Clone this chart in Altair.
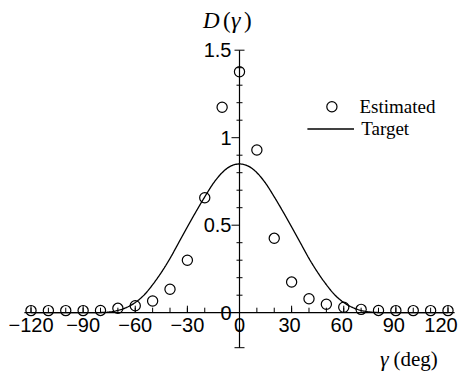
import altair as alt
import pandas as pd

# ---- data -------------------------------------------------------------
# Estimated directivity, sampled every 10 degrees
est_gamma = [-120, -110, -100, -90, -80, -70, -60, -50, -40, -30, -20, -10,
             0, 10, 20, 30, 40, 50, 60, 70, 80, 90, 100, 110, 120]
est_value = [0.012, 0.012, 0.012, 0.012, 0.013, 0.025, 0.040, 0.067, 0.134,
             0.300, 0.657, 1.174, 1.377, 0.930, 0.425, 0.175, 0.080, 0.048,
             0.031, 0.019, 0.013, 0.012, 0.012, 0.012, 0.012]

# Target directivity, every 5 degrees
target_gamma = [-120, -115, -110, -105, -100, -95, -90, -85, -80, -75, -70,
                -65, -60, -55, -50, -45, -40, -35, -30, -25, -20, -15, -10,
                -5, 0, 5, 10, 15, 20, 25, 30, 35, 40, 45, 50, 55, 60, 65, 70,
                75, 80, 85, 90, 95, 100, 105, 110, 115, 120]
target_value = [0, 0, 0, 0, 0, 0, 0, 0, 0.001, 0.004, 0.013, 0.030, 0.058,
                0.100, 0.160, 0.230, 0.310, 0.400, 0.490, 0.578, 0.662, 0.740,
                0.800, 0.838, 0.850, 0.838, 0.800, 0.740, 0.662, 0.578, 0.490,
                0.400, 0.310, 0.230, 0.160, 0.100, 0.058, 0.030, 0.013, 0.004,
                0.001, 0, 0, 0, 0, 0, 0, 0, 0]

# Axis ranges, ticks and labels
x_domain = [-123.8, 123.8]
y_domain = [-0.2, 1.5]
x_minor = [-120, -110, -100, -90, -80, -70, -60, -50, -40, -30, -20, -10,
           10, 20, 30, 40, 50, 60, 70, 80, 90, 100, 110, 120]
x_major = [-120, -90, -60, -30, 30, 60, 90, 120]
x_label_pos = [-120, -90, -60, -30, 0]
x_label_txt = ["\u2212120", "\u221290", "\u221260", "\u221230", "0"]
x_label_pos_r = [30, 60, 90]
x_label_txt_r = ["30", "60", "90"]
x_label_pos_end = [120]
x_label_txt_end = ["120"]
y_minor = [-0.1, 0.1, 0.2, 0.3, 0.4, 0.6, 0.7, 0.8, 0.9, 1.1, 1.2, 1.3, 1.4]
y_major = [0.5, 1.0]
y_ends = [-0.2, 1.5]
y_label_pos = [0, 0.5, 1.0, 1.5]
y_label_txt = ["0", "0.5", "1", "1.5"]

W, H = 430.2, 297.5
SANS = "Liberation Sans"
SERIF = "Liberation Serif"

est_df = pd.DataFrame({"gamma": est_gamma, "value": est_value,
                       "kind": ["Estimated"] * len(est_gamma)})
tgt_df = pd.DataFrame({"gamma": target_gamma, "value": target_value,
                       "curve": ["Target"] * len(target_gamma)})

xs = alt.Scale(domain=x_domain, nice=False, zero=False)
ys = alt.Scale(domain=y_domain, nice=False, zero=False)


def ticks_df(vals):
    return pd.DataFrame({"t": vals, "z": [0] * len(vals)})


# ---- axes drawn through the origin ------------------------------------
x_axis_line = alt.Chart(pd.DataFrame(
    {"a": [x_domain[0]], "b": [x_domain[1]], "z": [0]})).mark_rule(
    color="black", strokeWidth=1.2).encode(
    x=alt.X("a:Q", scale=xs, axis=None), x2="b:Q",
    y=alt.Y("z:Q", scale=ys, axis=None))
y_axis_line = alt.Chart(pd.DataFrame(
    {"a": [y_domain[0]], "b": [y_domain[1]], "z": [0]})).mark_rule(
    color="black", strokeWidth=1.2).encode(
    y=alt.Y("a:Q", scale=ys, axis=None), y2="b:Q",
    x=alt.X("z:Q", scale=xs, axis=None))


def x_ticks(vals, length):
    return alt.Chart(ticks_df(vals)).mark_rule(
        color="black", strokeWidth=1, yOffset=-length, y2Offset=0).encode(
        x=alt.X("t:Q", scale=xs, axis=None),
        y=alt.Y("z:Q", scale=ys, axis=None), y2="z:Q")


def y_ticks(vals, left, right):
    return alt.Chart(ticks_df(vals)).mark_rule(
        color="black", strokeWidth=1, xOffset=-left, x2Offset=right).encode(
        y=alt.Y("t:Q", scale=ys, axis=None),
        x=alt.X("z:Q", scale=xs, axis=None), x2="z:Q")


def x_labels(pos, txt, shift):
    return alt.Chart(pd.DataFrame(
        {"t": pos, "s": txt, "z": [0] * len(pos)})).mark_text(
        font=SANS, fontSize=20, color="black", baseline="middle",
        align="center", dy=13, dx=shift
    ).encode(x=alt.X("t:Q", scale=xs, axis=None),
             y=alt.Y("z:Q", scale=ys, axis=None), text="s:N")


y_labels = alt.Chart(pd.DataFrame(
    {"t": y_label_pos, "s": y_label_txt, "z": [0] * len(y_label_pos)})).mark_text(
    font=SANS, fontSize=20, color="black", baseline="middle", align="right",
    dx=-8, dy=1
).encode(y=alt.Y("t:Q", scale=ys, axis=None),
         x=alt.X("z:Q", scale=xs, axis=None), text="s:N")


# Axis captions, built from italic symbols and upright punctuation
def caption(text, x, y, size, italic):
    return alt.Chart(pd.DataFrame({"s": [text]})).mark_text(
        font=SERIF, fontSize=size, fontStyle="italic" if italic else "normal",
        color="black", align="left", baseline="alphabetic"
    ).encode(x=alt.value(x), y=alt.value(y), text="s:N")


y_title = [
    caption("D", 178.6, -22, 23, True),
    caption("(", 198.6, -22, 23, False),
    caption("\u03b3", 206.6, -22, 24, True),
    caption(")", 219.6, -22, 23, False),
]
x_title = [
    caption("\u03b3", 355.6, 316, 22, True),
    caption("(deg)", 369.0, 316, 21, False),
]

# ---- data layers ------------------------------------------------------
points = alt.Chart(est_df).mark_point(
    filled=False, size=104, strokeWidth=1.2, color="black", opacity=1
).encode(
    x=alt.X("gamma:Q", scale=xs, axis=None),
    y=alt.Y("value:Q", scale=ys, axis=None),
    shape=alt.Shape("kind:N", scale=alt.Scale(range=["circle"]),
                    legend=alt.Legend(
                        orient="none", legendX=298.0, legendY=47.0, title=None,
                        padding=0, labelFont=SERIF, labelFontSize=19,
                        labelColor="black", labelOffset=18.0, symbolSize=104,
                        symbolStrokeWidth=1.2, symbolStrokeColor="black",
                        symbolFillColor="white")),
)

curve = alt.Chart(tgt_df).mark_line(
    color="black", strokeWidth=1.3, interpolate="monotone"
).encode(
    x=alt.X("gamma:Q", scale=xs, axis=None),
    y=alt.Y("value:Q", scale=ys, axis=None),
    strokeDash=alt.StrokeDash("curve:N", scale=alt.Scale(range=[[1, 0]]),
                              legend=alt.Legend(
                                  orient="none", legendX=282.3, legendY=54.8,
                                  title=None, padding=0, labelFont=SERIF,
                                  labelFontSize=19, labelColor="black",
                                  labelOffset=6.5, symbolSize=2172,
                                  symbolType="stroke",
                                  symbolStrokeWidth=1.3,
                                  symbolStrokeColor="black")),
)

chart = alt.layer(
    x_axis_line, y_axis_line,
    x_ticks(x_minor, 5), x_ticks(x_major, 7),
    y_ticks(y_minor, 3, 3), y_ticks(y_major, 8, 0), y_ticks(y_ends, 5, 5),
    x_labels(x_label_pos, x_label_txt, 0),
    x_labels(x_label_pos_r, x_label_txt_r, -2),
    x_labels(x_label_pos_end, x_label_txt_end, -7),
    y_labels, *y_title, *x_title, curve, points,
).properties(
    width=W, height=H,
    autosize=alt.AutoSizeParams(type="none"),
    padding={"left": 24.4, "top": 50.2, "right": 8.4, "bottom": 24.3},
    background="white",
).configure_view(stroke=None)

chart.save("out.html", embed_options={"renderer": "svg", "actions": False})
